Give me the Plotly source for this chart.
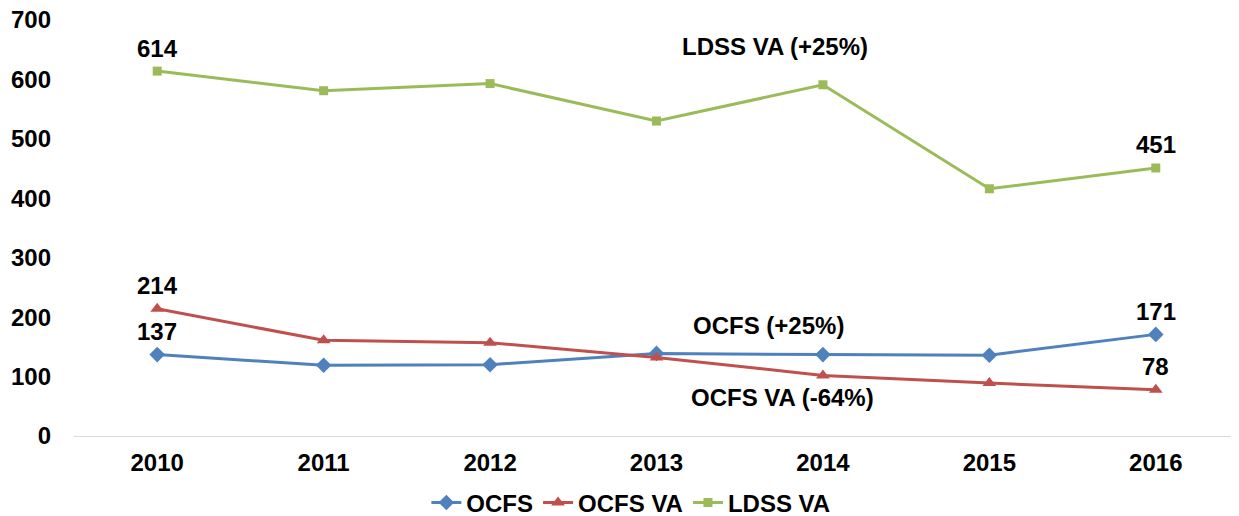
import plotly.graph_objects as go

years = ["2010", "2011", "2012", "2013", "2014", "2015", "2016"]
ocfs = [137, 119, 120, 139, 137, 136, 171]
ocfs_va = [214, 161, 157, 132, 102, 89, 78]
ldss_va = [614, 581, 593, 530, 591, 416, 451]

label_font = dict(family="Liberation Sans, Arial", size=24, color="#000000", weight="bold")

fig = go.Figure()
fig.add_trace(go.Scatter(x=years, y=ocfs, name="OCFS", mode="lines+markers",
                         line=dict(color="#4F81BD", width=3),
                         marker=dict(symbol="diamond", size=12, color="#4F81BD")))
fig.add_trace(go.Scatter(x=years, y=ocfs_va, name="OCFS VA", mode="lines+markers",
                         line=dict(color="#C0504D", width=3),
                         marker=dict(symbol="triangle-up", size=12, color="#C0504D")))
fig.add_trace(go.Scatter(x=years, y=ldss_va, name="LDSS VA", mode="lines+markers",
                         line=dict(color="#9BBB59", width=3),
                         marker=dict(symbol="square", size=9, color="#9BBB59")))

# data labels on first and last points (category index positions)
for series in (ocfs, ocfs_va, ldss_va):
    for i in (0, len(years) - 1):
        fig.add_annotation(x=i, y=series[i], xref="x", yref="y", text=str(series[i]),
                           showarrow=False, yshift=23, font=label_font)

fig.add_annotation(x=3.71, y=655, xref="x", yref="y", text="LDSS VA (+25%)", showarrow=False,
                   font=label_font, xanchor="center")
fig.add_annotation(x=3.67, y=186, xref="x", yref="y", text="OCFS (+25%)", showarrow=False,
                   font=label_font, xanchor="center")
fig.add_annotation(x=3.76, y=65, xref="x", yref="y", text="OCFS VA (-64%)", showarrow=False,
                   font=label_font, xanchor="center")

fig.update_layout(
    width=1239, height=516,
    margin=dict(l=66, r=8, t=12, b=88),
    plot_bgcolor="white", paper_bgcolor="white",
    font=label_font,
    showlegend=True,
    legend=dict(orientation="h", x=0.478, xanchor="center", yref="container", y=0.041,
                yanchor="middle", font=label_font, itemwidth=30, tracegroupgap=0),
)
fig.update_xaxes(type="category", range=[-0.5, 6.5], showgrid=False, showline=True,
                 linecolor="#D9D9D9", linewidth=1, ticks="", tickfont=label_font,
                 ticklabelstandoff=5, automargin=False)
fig.update_yaxes(range=[0, 700], dtick=100, showgrid=False, showline=False, zeroline=False,
                 ticks="", tickfont=label_font, ticklabelstandoff=22, automargin=False,
                 ticklabeloverflow="allow")

fig.write_html("out.html")
